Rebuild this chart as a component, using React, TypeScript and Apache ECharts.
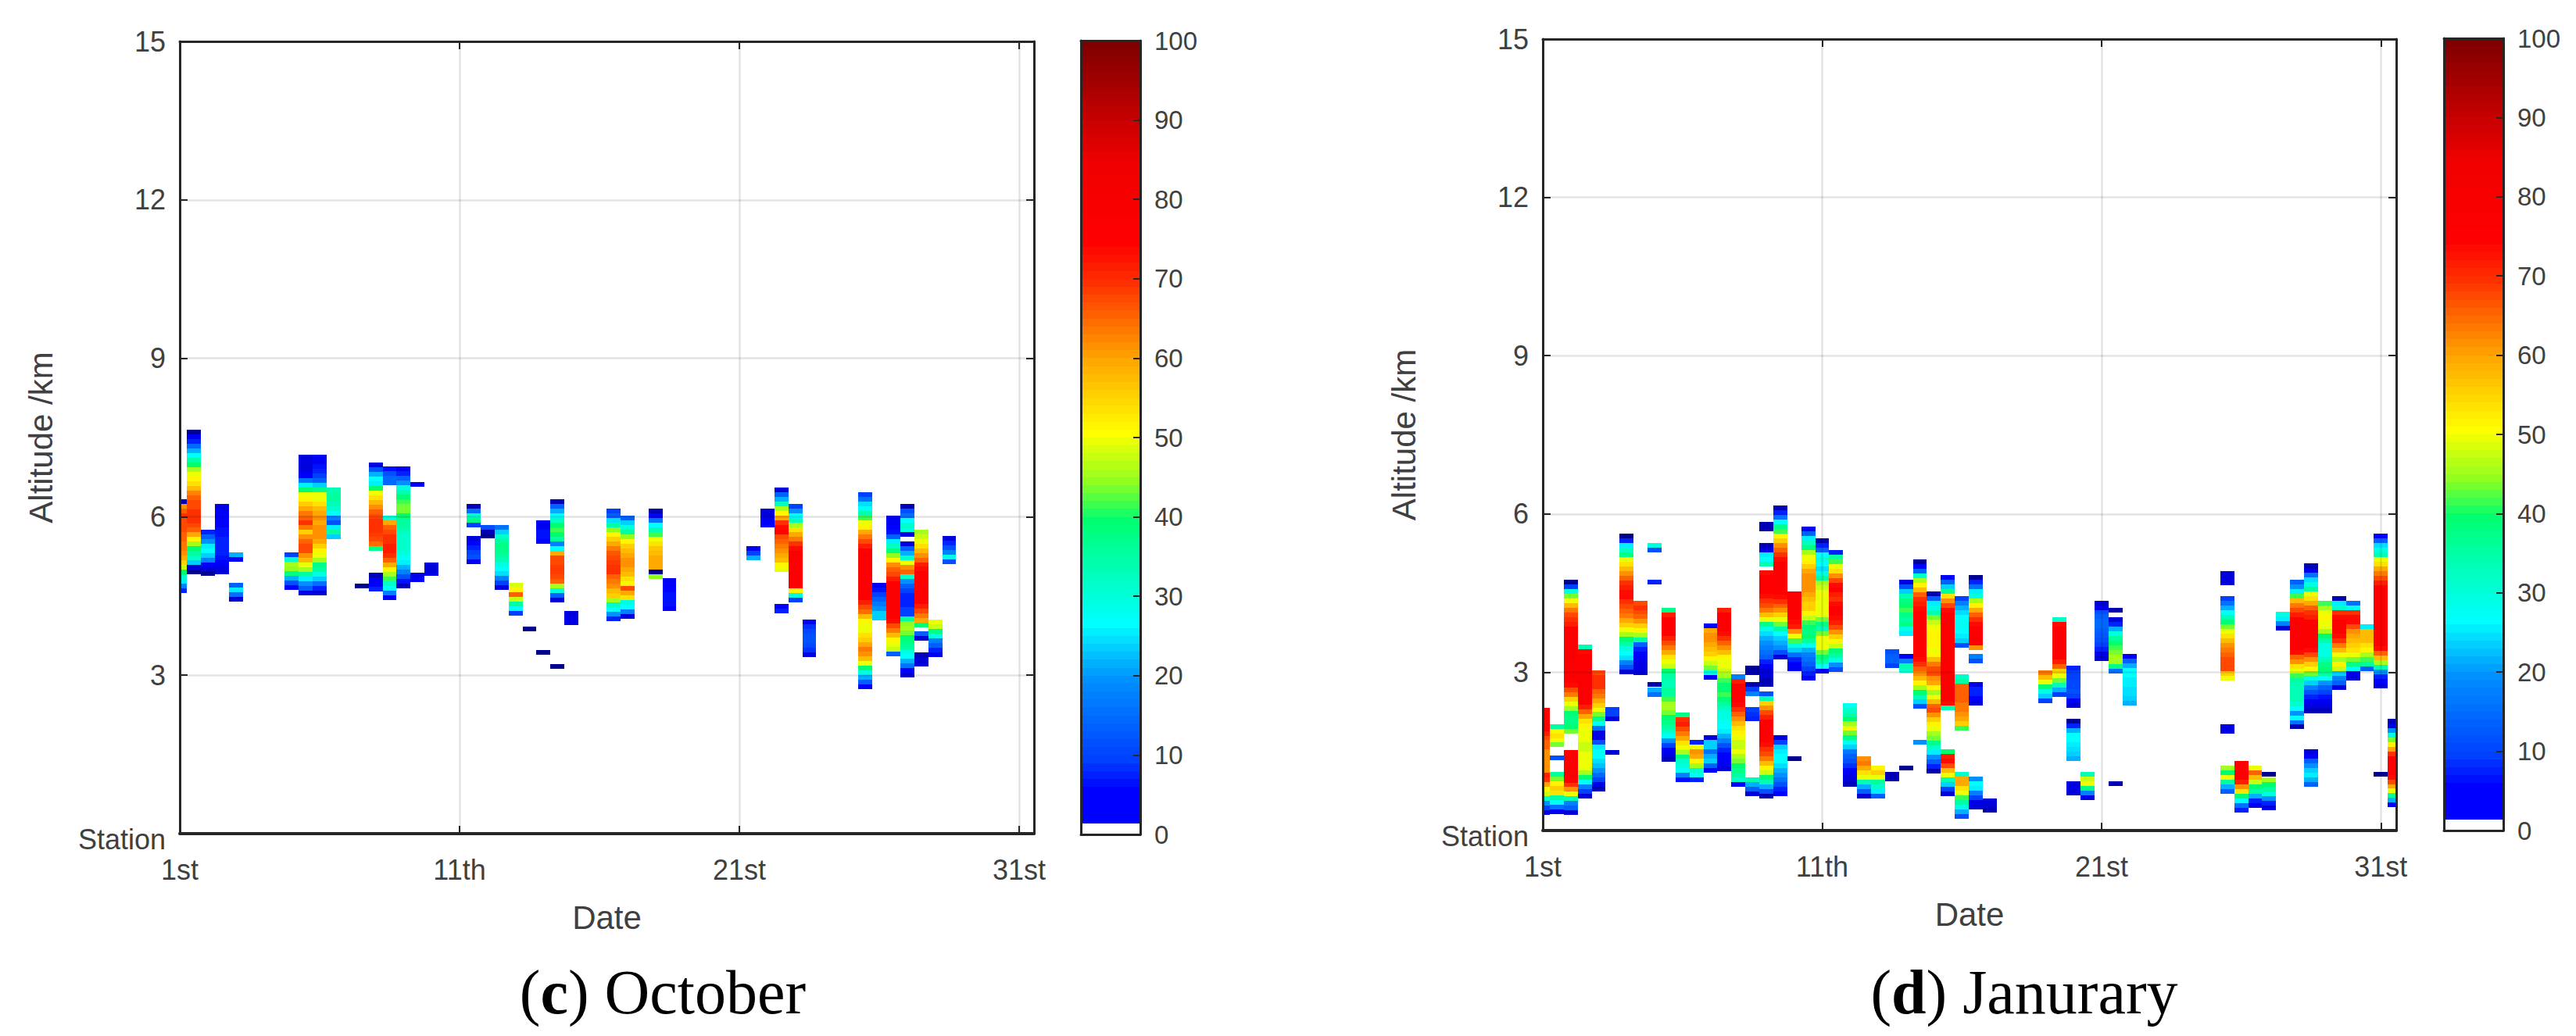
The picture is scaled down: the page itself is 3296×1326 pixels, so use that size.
import React, { useEffect, useRef } from "react";
import * as echarts from "echarts";

const dayLabels = ["1st", "11th", "21st", "31st"];
const colorbarTicks = 10;
const rowKm = 0.0885;
const levelStops = [1, 3, 6, 10, 20, 27, 33, 40, 45, 51, 60, 70, 75, 85, 100];
const levelColors = ["#000090", "#0000d8", "#0000ff", "#0040ff", "#0090ff", "#00ffff", "#00ffc0", "#00ff70", "#90ff20", "#ffff00", "#ffa800", "#ff3000", "#ff0000", "#f00000", "#800000"];
const colorbarLevels = [2,3,4,5,6,7,8,9,10,11,12,13,14,15,16,17,18,19,20,21,22,23,24,25,26,27,28,29,30,31,32,33,34,35,36,37,38,39,40,41,42,43,44,45,46,47,48,49,50,51,52,53,54,55,56,57,58,59,60,61,62,63,64,65,66,67,68,69,70,71,72,73,74,75,76,77,78,79,80,81,82,83,84,85,86,87,88,89,90,91,92,93,94,95,96,97,98,99,100];

// [half-day column, top altitude in km, percentages from the top down; 0 = no cloud]
const octColumns: [number, number, number[]][] = [
  [0, 6.33, [2,62,66,70,68,68,68,66,66,64,64,62,60,55,48,40,32,26,18,8]],
  [1, 7.65, [1,5,8,15,22,27,35,40,46,50,52,54,58,63,66,68,68,70,70,70,68,66,60,52,46,40,36,32,24,3,1]],
  [2, 5.76, [8,14,20,26,27,24,18,6,3,1]],
  [3, 6.24, [4,5,6,6,6,7,7,8,8,8,8,7,6,4,3]],
  [4, 5.32, [22,6]],
  [4, 4.75, [14,26,16,3]],
  [8, 5.32, [10,32,46,45,38,22,12,6]],
  [9, 7.17, [3,4,3,4,6,16,26,40,50,52,56,60,64,66,70,64,56,62,66,68,68,62,58,50,46,36,26,20,14,4]],
  [10, 7.17, [5,5,7,8,10,14,24,38,50,50,54,58,60,62,60,62,62,62,60,56,52,50,46,38,36,30,24,16,8,3]],
  [11, 6.55, [34,36,36,34,32,28,18,12,26,36,24]],
  [13, 4.73, [1]],
  [14, 7.03, [4,12,22,27,26,40,50,54,58,62,66,68,70,70,70,69,68,65,38]],
  [14, 4.94, [2,5,6,8]],
  [15, 6.95, [7,12,15,15]],
  [15, 6.02, [30,60,66,68,70,70,72,72,70,66,60,52,46,42,32,28,18,6]],
  [16, 6.95, [5,8,14,20,30,35,40,42,44,44,40,36,36,34,32,32,32,32,30,28,26,22,18,12,7,2]],
  [17, 6.66, [5]],
  [17, 4.94, [4,6]],
  [18, 5.14, [3,3,4]],
  [21, 6.24, [2,16,32,38,10]],
  [21, 5.63, [3,6,8,10,12,5]],
  [22, 5.85, [12,2,1]],
  [23, 5.85, [16,24,32,36,38,38,36,34,30,27,25,18,10,4]],
  [24, 4.75, [49,52,66,48,36,28,10]],
  [25, 3.92, [1]],
  [26, 5.93, [5,5,7,7,6]],
  [26, 3.48, [1]],
  [27, 6.33, [2,14,22,27,33,40,42,40,36,18,27,60,68,68,69,69,68,66,46,30,14,3]],
  [27, 3.21, [1]],
  [28, 4.22, [3,4,4]],
  [31, 6.15, [10,14,25,35,45,52,56,60,64,67,68,69,70,70,66,64,62,58,56,46,33,27,20,8]],
  [32, 6.02, [14,24,30,36,45,52,56,58,60,62,62,60,58,54,52,68,60,54,30,27,18,4]],
  [34, 6.15, [2,6,16,27,34,42,50,54,57,58,60,60,60,1,45]],
  [35, 4.84, [5,6,6,7,7,7,6]],
  [41, 5.45, [5,10,22]],
  [42, 6.15, [3,4,5,6]],
  [43, 6.55, [3,14,22,33,46,52,60,70,74,75,68,66,64,62,60,58,52,50]],
  [43, 4.35, [6,8]],
  [44, 6.24, [10,20,27,33,46,54,60,64,70,74,78,78,78,78,78,78,78,78,52,30,10]],
  [45, 4.05, [5,9,11,12,12,11,9,4]],
  [49, 6.46, [10,16,25,28,34,42,50,52,60,64,68,72,76,78,78,78,78,78,78,78,78,78,76,72,68,65,58,52,50,50,54,56,60,64,62,58,50,40,30,22,14,6]],
  [50, 4.75, [5,7,10,14,17,20,24,24]],
  [51, 6.02, [5,5,6,7,14,26,33,38,45,52,62,66,68,72,76,78,78,78,78,78,78,76,74,68,64,58,52,50,48,14]],
  [52, 6.24, [2,12,16,27,32,30,4,0,3,14,22,32,50,62,66,32,20,14,10,8,8,8,10,10,36,45,46,44,40,38,36,30,27,22,16,6,3]],
  [53, 5.76, [46,48,50,54,58,62,66,72,74,76,76,76,76,76,76,75,72,68,64,60,40]],
  [53, 3.83, [14,3]],
  [53, 3.43, [2,3,3]],
  [54, 4.05, [50,48,38,30,18,14,8,5]],
  [55, 5.63, [3,8,12,18,30,12]],
];

const janColumns: [number, number, number[]][] = [
  [0, 2.33, [80,80,78,76,76,72,68,66,66,62,62,62,62,62,72,70,60,52,48,32,20,10,3]],
  [1, 2.02, [36,52,54,50,44]],
  [1, 1.42, [12]],
  [1, 1.11, [36,44,52,56,54,36,28,16,5]],
  [2, 4.75, [1,10,30,44,50,58,64,68,70,72,76,78,78,78,78,78,80,78,78,78,78,76,74,68,64,56,50,46,40,38,38,40,44]],
  [2, 1.53, [76,78,78,78,78,78,76,70,62,50,34,18,14,3]],
  [3, 3.53, [34,74,76,78,78,78,78,78,78,78,78,78,76,72,66,60,54,52,50,50,50,48,48,50,50,50,50,46,40,28,18,10,3]],
  [4, 3.04, [68,70,70,70,66,64,60,56,50,44,38,28,16,4,4,12,26,28,27,25,23,20,15,10,4,2]],
  [5, 2.34, [10,10,3]],
  [5, 1.53, [3]],
  [6, 5.62, [1,8,26,33,38,50,54,58,62,66,70,72,74,74,70,68,66,64,60,56,50,46,40,35,30,27,25,18,12,3]],
  [7, 4.36, [68,70,68,66,62,56,52,46,36,14,8,6,5,4,4,3]],
  [8, 5.45, [30,12]],
  [8, 4.75, [8]],
  [8, 2.81, [2]],
  [8, 2.71, [22,16]],
  [9, 4.22, [38,72,76,76,76,76,72,68,64,60,54,50,48,40,36,34,34,36,36,42,46,46,44,40,38,36,32,28,20,10,5,4,2]],
  [10, 2.24, [38,70,72,68,64,60,54,50,46,38,32,30,28,18,7]],
  [11, 1.72, [8,50,62,60,52,46,32,28,8]],
  [12, 3.92, [6,60,62,62,60,58,56,52,48,44,30,6]],
  [12, 1.80, [3,24,24,16,22,24,14,6]],
  [13, 4.22, [72,76,78,78,76,74,70,66,62,58,52,50,50,48,46,42,40,40,42,40,36,33,30,30,28,27,26,22,18,12,8,6,6,5,3]],
  [14, 2.96, [18,72,76,76,76,76,74,70,66,62,58,54,52,50,48,48,50,46,44,40,38,36,32,6]],
  [15, 3.13, [1,2]],
  [15, 2.81, [2,10,18]],
  [15, 2.34, [10,9,8]],
  [15, 1.01, [34,22,14,3]],
  [16, 5.85, [2,2]],
  [16, 5.45, [2,4,26,28,34]],
  [16, 4.93, [74,76,76,76,76,74,70,68,64,58,50,38,30,25,22,20,18,16,14,8,5,3,3,2,2]],
  [16, 2.64, [12,34,56,62,68,72,76,78,78,76,76,74,70,68,64,58,52,48,40,34,22,12,2]],
  [17, 6.16, [2,8,16,28,38,42,52,56,62,66,70,74,78,78,78,78,78,76,76,74,70,66,62,56,50,44,36,28,24,22,20,12,3]],
  [17, 1.80, [3,10,24,26,27,27,25,22,20,16,12,8,6]],
  [18, 4.53, [76,78,78,78,76,76,74,72,62,50,42,30,24,16,8,6,5]],
  [18, 1.40, [1]],
  [19, 5.76, [5,14,26,33,38,46,50,52,56,60,62,62,62,62,60,58,56,56,52,48,42,40,38,40,36,28,22,18,16,14,10,8,6]],
  [20, 5.54, [2,8,14,27,30,27,25,30,36,46,48,50,50,50,50,50,50,44,38,34,44,50,50,50,44,40,36,28,6]],
  [21, 5.31, [8,36,42,50,54,62,68,74,76,72,70,74,76,76,74,72,68,62,56,52,48,40,36,30,20,12]],
  [22, 2.42, [28,32,34,40,46,50,44,38,28,24,17,14,12,9,6,4,3,2]],
  [23, 1.41, [62,64,60,54,50,34,22,14,3]],
  [24, 1.23, [52,56,50,36,32,26,14]],
  [25, 3.44, [12,14,14,10]],
  [25, 1.11, [2,2]],
  [26, 4.75, [4,12,24,34,38,40,42,38,36,38,30,26]],
  [26, 3.34, [5,18,34,32]],
  [26, 1.23, [1]],
  [27, 5.14, [1,6,14,32,46,52,58,66,70,72,74,76,76,78,78,78,78,78,76,76,76,74,70,66,62,58,52,46,40,34,24,12]],
  [27, 1.72, [20]],
  [28, 4.53, [2,14,26,30,34,44,48,50,52,52,52,52,50,52,58,64,68,68,62,60,52,46,50,58,66,68,62,56,52,50,46,44,38,32,26,20,14,8,2]],
  [29, 4.84, [6,14,24,36,54,62,68,74,76,78,78,78,78,78,78,78,78,78,78,78,78,78,78,78,78,78,78,74,34]],
  [29, 1.54, [40,72,74,68,58,50,34,24,10,3]],
  [30, 4.44, [10,18,22,25,27,28,28,27,26,24,12]],
  [30, 2.96, [32,36,66,66,66,66,64,64,62,60,56,42]],
  [30, 1.11, [32,60,60,54,50,42,36,30,22,12]],
  [31, 4.84, [1,8,16,26,30,46,52,60,66,70,74,76,78,78,76,62]],
  [31, 3.35, [18,12]],
  [31, 2.81, [4,8,8,6,3]],
  [31, 1.02, [20,27,26,18,10,4,3]],
  [32, 0.61, [3,3,2]],
  [36, 3.03, [64,58,50,40,30,24,10]],
  [37, 4.04, [32,74,76,78,78,78,78,78,76,72,66,56,50,44,34,22,10]],
  [38, 3.12, [8,10,10,11,11,12,10,6,3]],
  [38, 2.12, [1,8,22,27,27,26,25,24,22]],
  [38, 0.93, [3,4,3]],
  [39, 1.11, [34,48,50,38,18,4]],
  [40, 4.36, [3,5,12,14,15,15,14,13,12,10,8,4,3]],
  [41, 4.22, [2]],
  [41, 4.04, [3,8,22,30,36,40,42,44,46,46,38,16]],
  [41, 0.93, [2]],
  [42, 3.34, [5,14,22,27,27,26,26,25,25,24,22]],
  [49, 4.92, [3,3,3]],
  [49, 4.44, [10,16,22,28,34,40,44,50,54,58,62,64,66,68,68,68,56,50]],
  [49, 2.02, [4,4]],
  [49, 1.23, [46,40,50,36,22,14]],
  [50, 1.32, [76,76,76,76,72,62,54,40,28,16,8]],
  [51, 1.23, [50,66,58,48,40,36,22,8,5]],
  [52, 1.11, [1]],
  [52, 1.00, [46,40,36,30,20,8,4]],
  [53, 4.14, [30,26,18,3]],
  [54, 4.75, [14,20,26,42,58,64,68,72,76,78,78,78,78,78,78,74,66,62,54,50,42,36,34,34,34,34,32,28,20,27,16,2]],
  [55, 5.06, [2,4,16,25,30,36,50,54,60,66,70,72,76,78,78,78,78,78,74,68,62,56,52,44,30,24,18,12,8,5,3,2]],
  [55, 1.54, [3,6,14,20,24,26,22,14]],
  [56, 4.35, [42,46,50,52,50,50,46,40,34,30,30,30,34,38,40,36,28,20,14,10,7,5,3,2]],
  [57, 4.44, [2,26,32,70,74,76,76,76,74,70,64,58,50,46,52,48,24,18,14,4]],
  [58, 4.35, [16,28,70,74,74,68,62,60,58,56,54,50,44,38,28,5,3]],
  [59, 3.91, [26,58,58,58,54,52,46,42,36,14]],
  [60, 5.62, [6,14,25,30,34,50,54,60,64,68,72,76,78,78,78,78,78,78,78,78,78,78,78,78,74,66,58,46,34,20,8,6,3]],
  [60, 1.11, [1]],
  [61, 2.12, [2,4,20,30,44,52,60,70,76,78,78,76,74,68,60,50,36,22,6]],
];

const textColor = "#404040";
const lineColor = "#262626";

function levelColor(v: number): string {
  if (v <= levelStops[0]) return levelColors[0];
  for (let i = 1; i < levelStops.length; i++) {
    if (v <= levelStops[i]) {
      const t = (v - levelStops[i - 1]) / (levelStops[i] - levelStops[i - 1]);
      const mix = echarts.color.lerp(t, [levelColors[i - 1], levelColors[i]]);
      return mix as string;
    }
  }
  return levelColors[levelColors.length - 1];
}

function flatten(columns: [number, number, number[]][]) {
  const out: number[][] = [];
  columns.forEach(([k, top, values]) => {
    values.forEach((v, i) => {
      if (v > 0) out.push([k * 0.5, top - i * rowKm, v]);
    });
  });
  return out;
}

function renderCell(params: any, api: any) {
  const x = api.value(0);
  const y = api.value(1);
  const a = api.coord([x - 0.25, y]);
  const b = api.coord([x + 0.25, y - rowKm]);
  const shape = echarts.graphic.clipRectByRect(
    { x: Math.round(a[0]), y: Math.round(a[1]), width: Math.round(b[0]) - Math.round(a[0]), height: Math.round(b[1]) - Math.round(a[1]) },
    { x: params.coordSys.x, y: params.coordSys.y, width: params.coordSys.width, height: params.coordSys.height }
  );
  if (!shape) return null;
  return { type: "rect", shape, style: { fill: levelColor(api.value(2)) } };
}

function renderBarCell(params: any, api: any) {
  const v = api.value(0);
  const low = v === colorbarLevels[0] ? 1.4 : v - 1;
  const a = api.coord([0, v]);
  const b = api.coord([1, low]);
  return {
    type: "rect",
    shape: { x: a[0], y: Math.round(a[1]), width: b[0] - a[0], height: Math.round(b[1]) - Math.round(a[1]) },
    style: { fill: levelColor(Math.max(v, 6)) },
  };
}

const panels = [
  { grid: { left: 230, top: 53, width: 1093, height: 1014 }, bar: { left: 1383, top: 52, width: 76, height: 1016 }, xMax: 30.53, columns: octColumns },
  { grid: { left: 1974, top: 50, width: 1092, height: 1013 }, bar: { left: 3127, top: 49, width: 76, height: 1014 }, xMax: 30.55, columns: janColumns },
];

const frameLine = (width: number) => ({ show: true, onZero: false, lineStyle: { color: lineColor, width } });
const innerTick = { show: true, inside: true, length: 10, lineStyle: { color: lineColor, width: 2 } };
const gridLine = { show: true, lineStyle: { color: "rgba(0,0,0,0.11)", width: 2.5 } };

function buildOption() {
  const grid: any[] = [];
  const xAxis: any[] = [];
  const yAxis: any[] = [];
  const series: any[] = [];
  panels.forEach((p) => {
    const g = grid.length;
    grid.push(p.grid);
    const xMain = xAxis.length;
    xAxis.push({
      type: "value", gridIndex: g, min: 0, max: p.xMax, interval: 10, position: "bottom", z: 3,
      name: "Date", nameLocation: "middle", nameGap: 86,
      nameTextStyle: { fontFamily: "Liberation Sans", fontSize: 42, color: textColor },
      axisLine: frameLine(4), axisTick: innerTick, splitLine: gridLine,
      axisLabel: {
        margin: 28, fontFamily: "Liberation Sans", fontSize: 36, color: textColor,
        formatter: (v: number) => dayLabels[v / 10] ?? "",
      },
    });
    xAxis.push({
      type: "value", gridIndex: g, min: 0, max: p.xMax, interval: 10, position: "top", z: 3,
      axisLine: frameLine(3), axisTick: innerTick, splitLine: { show: false }, axisLabel: { show: false },
    });
    const yMain = yAxis.length;
    yAxis.push({
      type: "value", gridIndex: g, min: 0, max: 15, interval: 3, position: "left", z: 3,
      name: "Altitude /km", nameLocation: "middle", nameGap: 157, nameRotate: 90,
      nameTextStyle: { fontFamily: "Liberation Sans", fontSize: 42, color: textColor },
      axisLine: frameLine(3), axisTick: innerTick, splitLine: gridLine,
      axisLabel: {
        margin: 18, fontFamily: "Liberation Sans", fontSize: 36, color: textColor,
        formatter: (v: number) => (v === 0 ? "{s|Station}" : String(v)),
        rich: { s: { fontFamily: "Liberation Sans", fontSize: 36, color: textColor, padding: [14, 0, 0, 0] } },
      },
    });
    yAxis.push({
      type: "value", gridIndex: g, min: 0, max: 15, interval: 3, position: "right", z: 3,
      axisLine: frameLine(3), axisTick: innerTick, splitLine: { show: false }, axisLabel: { show: false },
    });
    series.push({
      type: "custom", coordinateSystem: "cartesian2d", xAxisIndex: xMain, yAxisIndex: yMain, z: 2, silent: true,
      encode: { x: 0, y: 1 }, data: flatten(p.columns), renderItem: renderCell,
    });

    const gb = grid.length;
    grid.push(p.bar);
    const xBar = xAxis.length;
    const barX = { type: "value", gridIndex: gb, min: 0, max: 1, z: 3, axisTick: { show: false }, axisLabel: { show: false }, splitLine: { show: false } };
    xAxis.push({ ...barX, position: "bottom", axisLine: frameLine(3) });
    xAxis.push({ ...barX, position: "top", axisLine: frameLine(3) });
    const yBar = yAxis.length;
    yAxis.push({
      type: "value", gridIndex: gb, min: 0, max: 100, interval: colorbarTicks, position: "right", z: 3,
      axisLine: frameLine(3), axisTick: { ...innerTick, length: 9 }, splitLine: { show: false },
      axisLabel: { margin: 18, fontFamily: "Liberation Sans", fontSize: 33, color: textColor },
    });
    yAxis.push({
      type: "value", gridIndex: gb, min: 0, max: 100, position: "left", z: 3,
      axisLine: frameLine(3), axisTick: { show: false }, axisLabel: { show: false }, splitLine: { show: false },
    });
    series.push({
      type: "custom", coordinateSystem: "cartesian2d", xAxisIndex: xBar, yAxisIndex: yBar, z: 2, silent: true,
      encode: { y: 0 }, data: colorbarLevels.map((v) => [v]), renderItem: renderBarCell,
    });
  });

  const caption = (letter: string, rest: string, x: number, y: number) => ({
    type: "text", x, y,
    style: {
      text: `{a|(}{b|${letter}}{a|) ${rest}}`, align: "center", verticalAlign: "middle",
      rich: {
        a: { fontFamily: "Liberation Serif", fontSize: 80, fill: "#000", color: "#000" },
        b: { fontFamily: "Liberation Serif", fontSize: 80, fontWeight: "bold", fill: "#000", color: "#000" },
      },
    },
  });

  return {
    animation: false,
    backgroundColor: "#ffffff",
    grid, xAxis, yAxis, series,
    graphic: [caption("c", "October", 848, 1270), caption("d", "Janurary", 2590, 1270)],
  };
}

export default function App() {
  const ref = useRef<HTMLDivElement>(null);
  useEffect(() => {
    document.body.style.margin = "0";
    const chart = echarts.init(ref.current!, undefined, { renderer: "svg" });
    chart.setOption(buildOption() as any);
    return () => chart.dispose();
  }, []);
  return <div ref={ref} style={{ width: 3296, height: 1326 }} />;
}
